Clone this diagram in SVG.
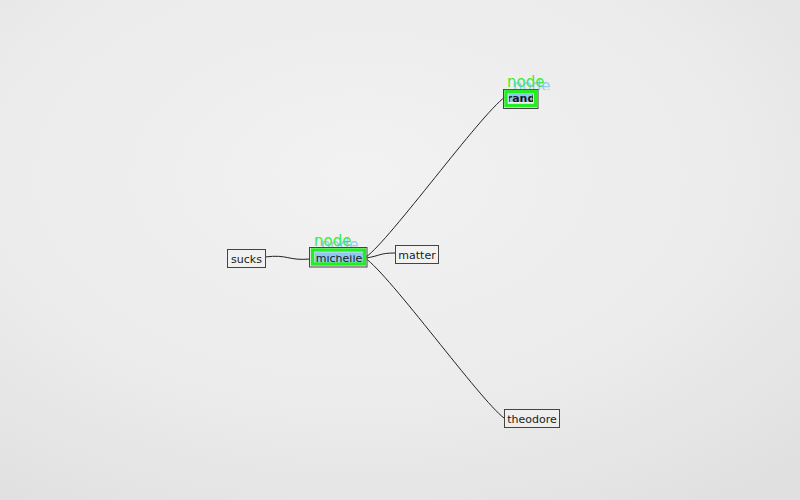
<svg xmlns="http://www.w3.org/2000/svg" width="800" height="500" viewBox="0 0 800 500">
<defs>
<radialGradient id="bg" cx="45%" cy="35%" r="80%">
<stop offset="0" stop-color="#f2f2f2"/>
<stop offset="0.6" stop-color="#ebebeb"/>
<stop offset="1" stop-color="#e0e0e0"/>
</radialGradient>
<clipPath id="cm"><rect x="315" y="255.3" width="48" height="7.5"/></clipPath>
<clipPath id="cr"><rect x="509" y="94.5" width="24" height="7.5"/></clipPath>
<clipPath id="tm"><rect x="0" y="0" width="800" height="248"/></clipPath>
<clipPath id="tr"><rect x="0" y="0" width="800" height="90"/></clipPath>
</defs>
<style>
.box{fill:#f4f4f4;fill-opacity:0.5;stroke:#444;stroke-width:1}
.lbl{font-family:"DejaVu Sans",sans-serif;font-size:11px;fill:#1a1a1a;text-anchor:middle}
.edge{fill:none;stroke:#222;stroke-width:1}
.hl{fill:none;stroke:#22ee22;stroke-width:3.4}
.sel{fill:#8ccaf0}
.ng{font-family:"DejaVu Sans",sans-serif;font-size:15px;fill:#33ee33}
.nb{font-family:"DejaVu Sans",sans-serif;font-size:15px;fill:#6cbcf2;fill-opacity:0.7}
</style>
<rect width="800" height="500" fill="url(#bg)"/>
<g id="connectors">
<path class="edge" d="M366,257 C390,240 480,115 505,97"/>
<path class="edge" d="M365,258 C390,275 480,400 504,418"/>
<path class="edge" d="M366,258 C380,256 379,253 395,253"/>
<path class="edge" d="M265,257 C288,254 288,261 310,259"/>
</g>
<g id="node-sucks">
<rect class="box" x="227.5" y="249.5" width="38" height="18"/>
<text class="lbl" x="246.5" y="262.5">sucks</text>
</g>
<g id="node-matter">
<rect class="box" x="395.5" y="245.5" width="43" height="18"/>
<text class="lbl" x="417" y="258.5">matter</text>
</g>
<g id="node-theodore">
<rect class="box" x="504.5" y="409.5" width="55" height="18"/>
<text class="lbl" x="532" y="422.5">theodore</text>
</g>
<g id="node-michelle">
<text class="ng" x="314" y="246">node</text>
<text class="nb" x="321" y="250" clip-path="url(#tm)">node</text>
<rect class="box" x="309.5" y="247.5" width="57.5" height="19.5"/>
<rect class="sel" x="314.5" y="252.3" width="48.5" height="10.3"/>
<rect class="hl" x="312.5" y="250" width="52" height="14"/>
<text class="lbl" x="339" y="262" font-size="10.2" clip-path="url(#cm)">michelle</text>
</g>
<g id="node-rand">
<text class="ng" x="507" y="86.5">node</text>
<text class="nb" x="513" y="90.5" clip-path="url(#tr)">node</text>
<rect class="box" x="503.5" y="89.5" width="34.5" height="19"/>
<rect class="sel" x="508.5" y="93.3" width="24.5" height="8.7"/>
<rect class="hl" x="506" y="91.5" width="29.5" height="14"/>
<text class="lbl" x="521" y="102" font-size="10" font-weight="bold" clip-path="url(#cr)">rand</text>
</g>
</svg>
